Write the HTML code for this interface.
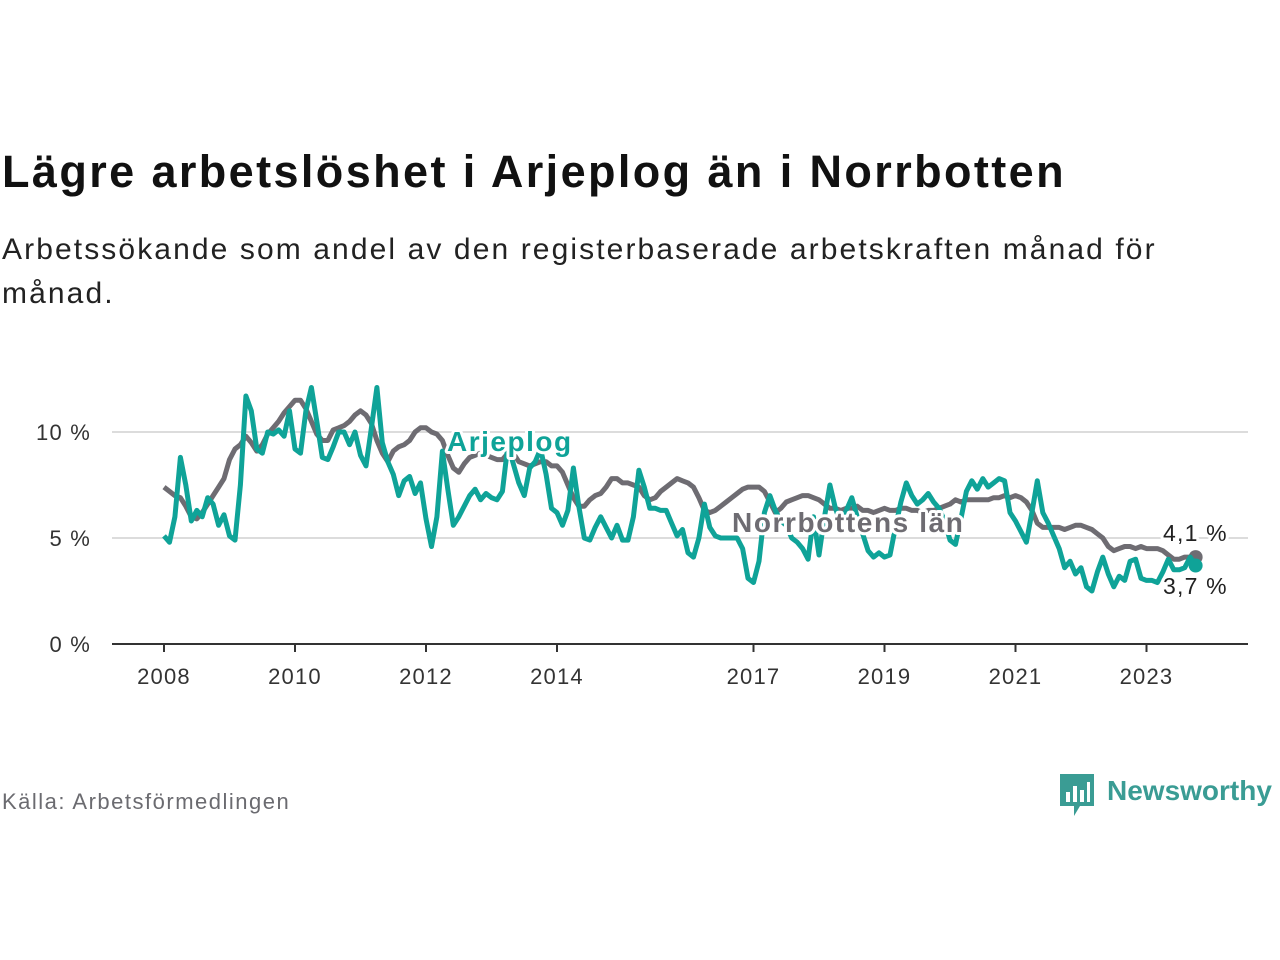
<!DOCTYPE html>
<html><head><meta charset="utf-8"><style>
body{margin:0;background:#fff;font-family:"Liberation Sans","DejaVu Sans",sans-serif;}
#wrap{position:relative;width:1280px;height:960px;overflow:hidden;}
.t{position:absolute;white-space:nowrap;}
</style></head><body>
<div id="wrap">
<div class="t" style="left:2px;top:146px;font-size:45px;font-weight:bold;color:#111;letter-spacing:2.4px;">Lägre arbetslöshet i Arjeplog än i Norrbotten</div>
<div class="t" style="left:2px;top:228px;font-size:30px;line-height:44px;color:#222;white-space:normal;width:1240px;letter-spacing:2.1px;">Arbetssökande som andel av den registerbaserade arbetskraften månad för<br>månad.</div>
<svg id="chart" width="1280" height="960" style="position:absolute;left:0;top:0;"></svg>
<div class="t" style="left:2px;top:789px;font-size:22px;color:#6b6b70;letter-spacing:1.5px;">Källa: Arbetsförmedlingen</div>
<div style="position:absolute;left:1060px;top:774px;">
<svg width="36" height="44"><path d="M0 0h34v32h-14l-6 10v-10h-14z" fill="#3a9c94"/><rect x="6" y="18" width="4" height="10" fill="#fff"/><rect x="13" y="12" width="4" height="16" fill="#fff"/><rect x="20" y="16" width="4" height="12" fill="#fff"/><rect x="27" y="8" width="3" height="20" fill="#fff"/></svg>
<span class="t" style="left:47px;top:1px;font-size:28px;color:#3a9c94;font-weight:bold;">Newsworthy</span>
</div>
</div>
<script>
const years = [2008,2010,2012,2014,2017,2019,2021,2023];
const yTicks = [0,5,10];
const yTickLabels = ["0 %","5 %","10 %"];
const startYear = 2008;
const norrbotten = [
7.4,7.2,7.0,6.9,6.5,6.0,5.9,6.2,6.6,7.0,7.4,7.8,
8.7,9.2,9.4,9.8,9.5,9.1,9.4,9.9,10.2,10.5,10.9,11.2,
11.5,11.5,11.1,10.5,9.9,9.6,9.6,10.1,10.2,10.3,10.5,10.8,
11.0,10.8,10.4,9.6,9.0,8.6,9.1,9.3,9.4,9.6,10.0,10.2,
10.2,10.0,9.9,9.6,8.9,8.3,8.1,8.5,8.8,8.9,9.0,8.9,
8.8,8.7,8.7,9.0,9.0,8.6,8.5,8.4,8.5,8.6,8.6,8.4,
8.4,8.1,7.5,6.9,6.5,6.5,6.8,7.0,7.1,7.4,7.8,7.8,
7.6,7.6,7.5,7.4,7.0,6.8,6.9,7.2,7.4,7.6,7.8,7.7,
7.6,7.4,6.9,6.3,6.2,6.3,6.5,6.7,6.9,7.1,7.3,7.4,
7.4,7.4,7.2,6.7,6.2,6.4,6.7,6.8,6.9,7.0,7.0,6.9,
6.8,6.6,6.4,6.4,6.3,6.4,6.4,6.5,6.3,6.3,6.2,6.3,
6.4,6.3,6.3,6.4,6.4,6.3,6.3,6.2,6.3,6.3,6.4,6.5,
6.6,6.8,6.7,6.8,6.8,6.8,6.8,6.8,6.9,6.9,7.0,6.9,
7.0,6.9,6.7,6.3,5.7,5.5,5.5,5.5,5.5,5.4,5.5,5.6,
5.6,5.5,5.4,5.2,5.0,4.6,4.4,4.5,4.6,4.6,4.5,4.6,
4.5,4.5,4.5,4.4,4.2,4.0,4.0,4.1,4.1,4.1];
const arjeplog = [
5.1,4.8,6.0,8.8,7.5,5.8,6.3,6.0,6.9,6.6,5.6,6.1,
5.1,4.9,7.5,11.7,11.0,9.2,9.0,10.0,9.9,10.1,9.8,11.0,
9.2,9.0,11.0,12.1,10.5,8.8,8.7,9.3,10.0,10.0,9.4,10.0,
8.9,8.4,10.2,12.1,9.5,8.6,8.0,7.0,7.7,7.9,7.1,7.6,
5.9,4.6,6.0,9.1,7.3,5.6,6.0,6.5,7.0,7.3,6.8,7.1,
6.9,6.8,7.2,9.4,8.5,7.6,7.0,8.3,8.6,9.2,8.0,6.4,
6.2,5.6,6.3,8.3,6.5,5.0,4.9,5.5,6.0,5.5,5.0,5.6,
4.9,4.9,6.0,8.2,7.4,6.4,6.4,6.3,6.3,5.7,5.1,5.4,
4.3,4.1,5.0,6.6,5.5,5.1,5.0,5.0,5.0,5.0,4.5,3.1,
2.9,3.9,6.2,7.0,6.3,5.8,5.6,5.0,4.8,4.5,4.0,6.0,
4.2,6.0,7.5,6.4,5.7,6.3,6.9,6.0,5.2,4.4,4.1,4.3,
4.1,4.2,5.5,6.7,7.6,7.0,6.6,6.8,7.1,6.7,6.4,5.8,
4.9,4.7,5.9,7.2,7.7,7.3,7.8,7.4,7.6,7.8,7.7,6.2,
5.8,5.3,4.8,6.2,7.7,6.2,5.7,5.1,4.5,3.6,3.9,3.3,
3.6,2.7,2.5,3.4,4.1,3.3,2.7,3.2,3.0,3.9,4.0,3.1,
3.0,3.0,2.9,3.4,4.0,3.5,3.5,3.6,4.1,3.7];
const endLabels = ["4,1 %","3,7 %"];

const NS="http://www.w3.org/2000/svg";
const svg=document.getElementById('chart');
const X0=164, PX_YEAR=65.5, Y0=644, PX_PCT=21.2;
const xYear=y=>X0+(y-startYear)*PX_YEAR;
const xIdx=i=>xYear(startYear+i/12);
const yVal=v=>Y0-v*PX_PCT;
function mk(tag,attrs){const e=document.createElementNS(NS,tag);for(const k in attrs)e.setAttribute(k,attrs[k]);svg.appendChild(e);return e;}

yTicks.forEach((t,i)=>{
  if(t>0){const g=mk('line',{x1:112,x2:1248,y1:yVal(t),y2:yVal(t),stroke:'#dcdcdc','stroke-width':2});
  
  }
  const l=mk('text',{x:91,y:yVal(t)+8,'text-anchor':'end','font-size':22,fill:'#333','letter-spacing':1.2,'font-family':'Liberation Sans, sans-serif'});
  l.textContent=yTickLabels[i];
  
  
});
const ax=mk('line',{x1:112,x2:1248,y1:Y0,y2:Y0,stroke:'#333','stroke-width':2});


years.forEach(y=>{
  const tk=mk('line',{x1:xYear(y),x2:xYear(y),y1:Y0,y2:Y0+8,stroke:'#333','stroke-width':2});
  
  
  const l=mk('text',{x:xYear(y),y:684,'text-anchor':'middle','font-size':22,fill:'#333','letter-spacing':1.2,'font-family':'Liberation Sans, sans-serif'});
  l.textContent=y;
  
  
});
function line(data,color,name){
  const d=data.map((v,i)=>(i?'L':'M')+xIdx(i).toFixed(1)+' '+yVal(v).toFixed(1)).join('');
  const p=mk('path',{d:d,fill:'none',stroke:color,'stroke-width':5,'stroke-linejoin':'round'});
  
  
  const n=data.length-1;
  const c=mk('circle',{cx:xIdx(n),cy:yVal(data[n]),r:7,fill:color});
  
  
}
line(norrbotten,'#6e6c72','norrbotten-line');
line(arjeplog,'#0fa398','arjeplog-line');
function lab(txt,x,y,color,name,size,bold,ls){
  const t=mk('text',{x:x,y:y,'font-size':size,fill:color,'font-weight':bold?'bold':'normal','letter-spacing':ls,stroke:'#fff','stroke-width':6,'paint-order':'stroke','stroke-linejoin':'round','font-family':'Liberation Sans, sans-serif'});
  t.textContent=txt;
  
  
}
lab('Arjeplog',447,451,'#0fa398','arjeplog-label',28,true,1.5);
lab('Norrbottens län',732,532,'#6e6c72','norrbotten-label',28,true,1.6);
lab(endLabels[0],1163,541,'#222','norrbotten-end-value',23,false,1.2);
lab(endLabels[1],1163,594,'#222','arjeplog-end-value',23,false,1.2);
</script>
</body></html>
